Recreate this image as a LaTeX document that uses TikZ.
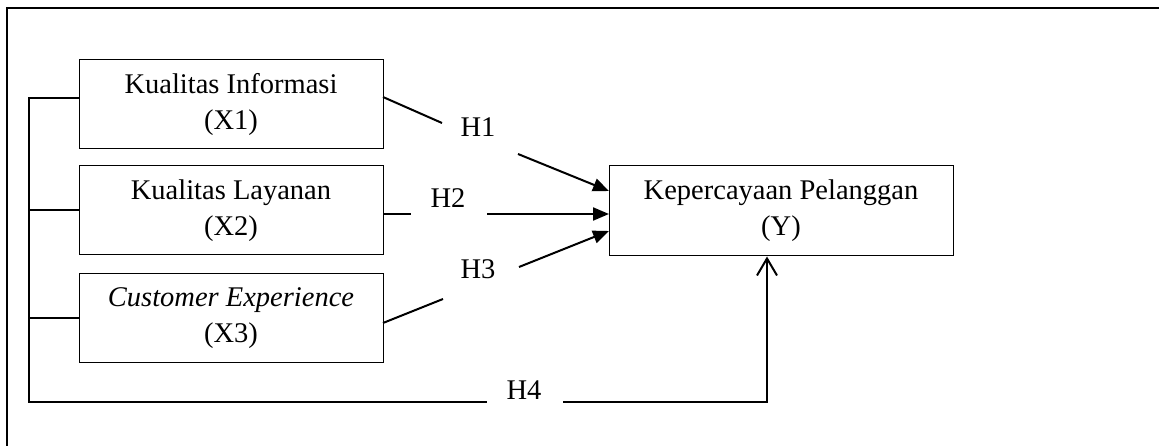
\documentclass[tikz,border=0pt]{standalone}
\usepackage{fontspec}
\setmainfont{Liberation Serif}
\usetikzlibrary{arrows.meta}
\begin{document}
\begin{tikzpicture}[x=1pt,y=-1pt,
  varbox/.style={draw,line width=1pt,minimum width=304pt,minimum height=89pt,inner sep=0pt,align=center,font=\fontsize{28.5}{36}\selectfont},
  hlabel/.style={inner sep=0pt,font=\fontsize{28.5}{34}\selectfont},
  link/.style={line width=2pt},
  harrow/.style={line width=2pt,-{Triangle[length=16pt,width=13pt]}},
  frameline/.style={line width=1.3pt}]
\useasboundingbox (0,0) rectangle (1159,446);
% frame
\coordinate (ftr) at (1159,8);
\coordinate (ftl) at (7,8);
\coordinate (fbl) at (7,446);
\draw[frameline] (ftr) -- (ftl) -- (fbl);
% boxes
\node[varbox] (x1) at (231,104.5) {Kualitas Informasi\\(X1)};
\node[varbox] (x2) at (231,210.5) {Kualitas Layanan\\(X2)};
\node[varbox] (x3) at (231,318) {\textit{Customer Experience}\\(X3)};
\node[varbox,minimum width=344pt,minimum height=90pt] (y) at (781,211) {Kepercayaan Pelanggan\\(Y)};
% labels
\node[hlabel] (h1) at (478,127) {H1};
\node[hlabel] (h2) at (448,198) {H2};
\node[hlabel] (h3) at (478,269) {H3};
\node[hlabel] (h4) at (524,390) {H4};
% H1
\coordinate (h1a) at (383,97);
\coordinate (h1b) at (442,123);
\coordinate (h1c) at (518,154);
\coordinate (h1d) at (609,191);
\draw[link] (h1a) -- (h1b);
\draw[harrow] (h1c) -- (h1d);
% H2
\coordinate (h2a) at (383,214);
\coordinate (h2b) at (411,214);
\coordinate (h2c) at (487,214);
\coordinate (h2d) at (609,214);
\draw[link] (h2a) -- (h2b);
\draw[harrow] (h2c) -- (h2d);
% H3
\coordinate (h3a) at (383,323);
\coordinate (h3b) at (443,299);
\coordinate (h3c) at (519,267);
\coordinate (h3d) at (609,231);
\draw[link] (h3a) -- (h3b);
\draw[harrow] (h3c) -- (h3d);
% H4 bus
\coordinate (b1) at (29,98);
\coordinate (b2) at (29,210.5);
\coordinate (b3) at (29,318);
\coordinate (b4) at (29,402);
\coordinate (b5) at (487,402);
\coordinate (b6) at (563,402);
\coordinate (b7) at (767,402);
\draw[link] (x1.west |- b1) -- (b1) -- (b4) -- (b5);
\draw[link] (b2) -- (x2.west);
\draw[link] (b3) -- (x3.west);
\draw[link,-{Straight Barb[length=17pt,width=20pt,line width=2pt]}] (b6) -- (b7) -- (b7 |- y.south);
\end{tikzpicture}
\end{document}
